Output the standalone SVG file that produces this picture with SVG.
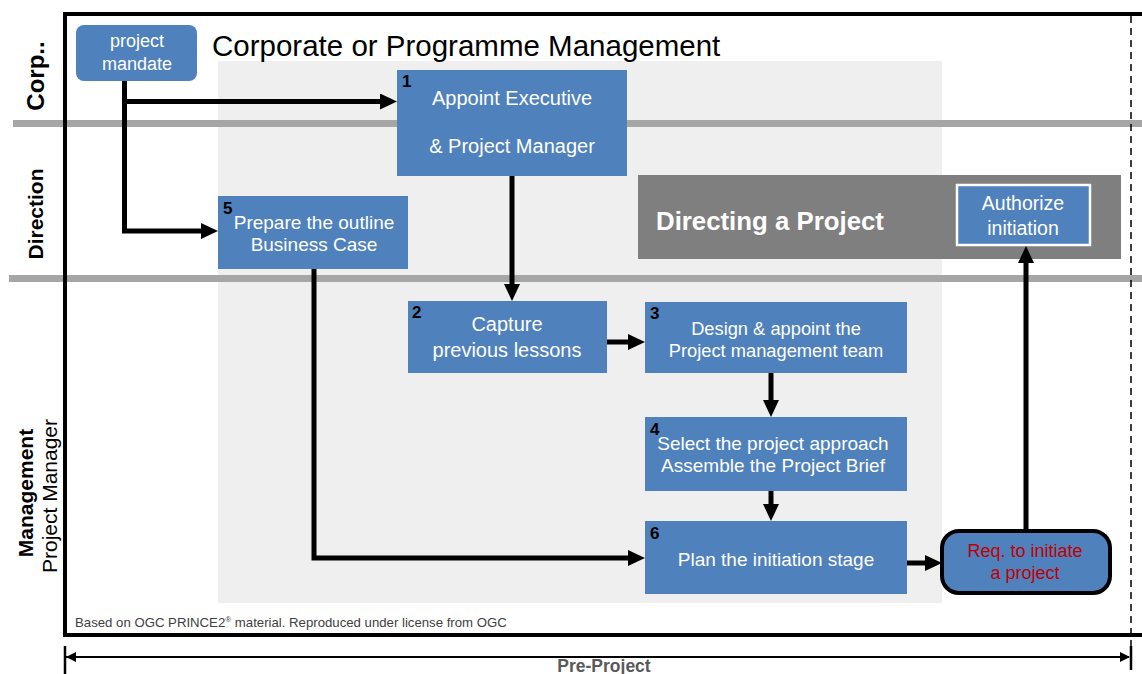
<svg xmlns="http://www.w3.org/2000/svg" width="1142" height="674" viewBox="0 0 1142 674">
<defs>
<style>
.node{fill:#4f81bd}
.t{font-family:"Liberation Sans",Arial,sans-serif;fill:#ffffff;text-anchor:middle}
.num{font-family:"Liberation Sans",Arial,sans-serif;font-weight:bold;font-size:17px;fill:#000}
.lab{font-family:"Liberation Sans",Arial,sans-serif;fill:#000;text-anchor:middle}
.lane{stroke:#a6a6a6;stroke-width:7}
.conn{fill:none;stroke:#000;stroke-width:5;stroke-linejoin:miter}
</style>
<marker id="ah" markerUnits="userSpaceOnUse" markerWidth="18" markerHeight="17" refX="0" refY="8" orient="auto">
<path d="M0,0 L17,8 L0,16 z" fill="#000"/>
</marker>
</defs>
<rect width="1142" height="674" fill="#ffffff"/>
<g id="background">
<rect x="218" y="61" width="724" height="542" fill="#efefef"/>
<line class="lane" x1="13" y1="123.5" x2="1142" y2="123.5"/>
<line class="lane" x1="9" y1="278.5" x2="1142" y2="278.5"/>
<rect x="65" y="14" width="1100" height="621" fill="none" stroke="#000" stroke-width="4"/>
<line x1="1131" y1="16" x2="1131" y2="648" stroke="#000" stroke-width="1.5" stroke-dasharray="7,5"/>
</g>
<g id="lane-labels">
<text class="lab" transform="translate(44,76) rotate(-90)" font-size="24" font-weight="bold">Corp..</text>
<text class="lab" transform="translate(43,214) rotate(-90)" font-size="21" font-weight="bold">Direction</text>
<text class="lab" transform="translate(33,493) rotate(-90)" font-size="21" font-weight="bold">Management</text>
<text class="lab" transform="translate(57,496) rotate(-90)" font-size="21">Project Manager</text>
<text x="212" y="56" font-family="'Liberation Sans',Arial,sans-serif" font-size="29.5" fill="#000">Corporate or Programme Management</text>
</g>
<g id="mandate">
<rect class="node" x="76" y="25" width="121" height="56" rx="8"/>
<text class="t" x="137" y="47" font-size="18">project</text>
<text class="t" x="137" y="70" font-size="18">mandate</text>
</g>
<g id="node1">
<rect class="node" x="397" y="70" width="230" height="106"/>
<text class="num" x="402" y="87">1</text>
<text class="t" x="512" y="105" font-size="20">Appoint Executive</text>
<text class="t" x="512" y="153" font-size="20">&amp; Project Manager</text>
</g>
<g id="node5">
<rect class="node" x="218" y="196" width="190" height="73"/>
<text class="num" x="223" y="214">5</text>
<text class="t" x="314" y="229" font-size="19">Prepare the outline</text>
<text class="t" x="314" y="251" font-size="19">Business Case</text>
</g>
<g id="directing">
<rect x="638" y="175" width="483" height="84" fill="#7f7f7f"/>
<text x="656" y="230" font-family="'Liberation Sans',Arial,sans-serif" font-size="25.8" font-weight="bold" fill="#ffffff">Directing a Project</text>
</g>
<g id="authorize">
<rect class="node" x="957" y="185" width="133" height="60" stroke="#ffffff" stroke-width="2.5"/>
<text class="t" x="1023" y="210" font-size="19.5">Authorize</text>
<text class="t" x="1023" y="235" font-size="19.5">initiation</text>
</g>
<g id="node2">
<rect class="node" x="408" y="301" width="199" height="72"/>
<text class="num" x="412" y="318">2</text>
<text class="t" x="507" y="331" font-size="20">Capture</text>
<text class="t" x="507" y="357" font-size="20">previous lessons</text>
</g>
<g id="node3">
<rect class="node" x="645" y="302" width="262" height="71"/>
<text class="num" x="650" y="319">3</text>
<text class="t" x="776" y="335" font-size="18.3">Design &amp; appoint the</text>
<text class="t" x="776" y="357" font-size="18.3">Project management team</text>
</g>
<g id="node4">
<rect class="node" x="645" y="417" width="262" height="74"/>
<text class="num" x="650" y="435">4</text>
<text class="t" x="773" y="450" font-size="19">Select the project approach</text>
<text class="t" x="773" y="472" font-size="19">Assemble the Project Brief</text>
</g>
<g id="node6">
<rect class="node" x="645" y="521" width="262" height="73"/>
<text class="num" x="650" y="539">6</text>
<text class="t" x="776" y="566" font-size="19">Plan the initiation stage</text>
</g>
<g id="request">
<rect class="node" x="942" y="531" width="168" height="62" rx="17" stroke="#000" stroke-width="4"/>
<text x="1025" y="557" font-family="'Liberation Sans',Arial,sans-serif" font-size="18" fill="#c00000" text-anchor="middle">Req. to initiate</text>
<text x="1025" y="579" font-family="'Liberation Sans',Arial,sans-serif" font-size="18" fill="#c00000" text-anchor="middle">a project</text>
</g>
<g id="connectors">
<path class="conn" d="M124.5,81 V231 H201" marker-end="url(#ah)"/>
<path class="conn" d="M124.5,101.5 H380" marker-end="url(#ah)"/>
<path class="conn" d="M512,176 V284" marker-end="url(#ah)"/>
<path class="conn" d="M607,342 H628" marker-end="url(#ah)"/>
<path class="conn" d="M771,373 V400" marker-end="url(#ah)"/>
<path class="conn" d="M771,491 V504" marker-end="url(#ah)"/>
<path class="conn" d="M314,269 V558 H628" marker-end="url(#ah)"/>
<path class="conn" d="M907,563 H925" marker-end="url(#ah)"/>
<path class="conn" d="M1026,529 V263" marker-end="url(#ah)"/>
</g>
<g id="footer">
<text x="75" y="627" font-family="'Liberation Sans',Arial,sans-serif" font-size="13.2" fill="#404040">Based on OGC PRINCE2<tspan font-size="8" dy="-5">®</tspan><tspan dy="5"> material. Reproduced under license from OGC</tspan></text>
</g>
<g id="pre-project">
<line x1="66" y1="657" x2="1129" y2="657" stroke="#000" stroke-width="1.8"/>
<line x1="65" y1="646" x2="65" y2="674" stroke="#000" stroke-width="2.5"/>
<line x1="1131" y1="646" x2="1131" y2="670" stroke="#000" stroke-width="2.5"/>
<path d="M66,657 L76,652 L76,662 z" fill="#000"/>
<path d="M1130,657 L1120,652 L1120,662 z" fill="#000"/>
<text x="604" y="672" font-family="'Liberation Sans',Arial,sans-serif" font-size="17.5" font-weight="bold" fill="#595959" text-anchor="middle">Pre-Project</text>
</g>
</svg>
